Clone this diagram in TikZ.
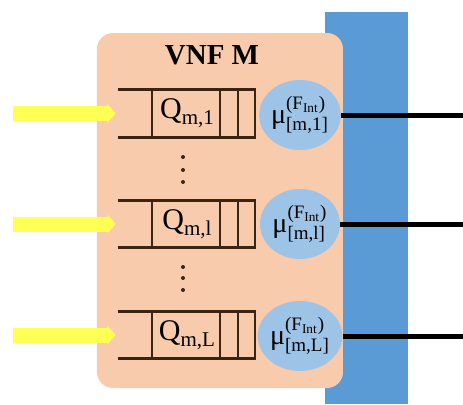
\documentclass[tikz,border=0pt]{standalone}
\usepackage{fontspec}
\setmainfont{Liberation Serif}
\usetikzlibrary{arrows.meta,shapes.geometric}
\definecolor{vnforange}{HTML}{F8CBAD}
\definecolor{barblue}{HTML}{5B9BD5}
\definecolor{srvblue}{HTML}{9DC3E6}
\definecolor{qline}{HTML}{3B2412}
\definecolor{inyellow}{HTML}{FFFF55}
\newcommand\svclabel[1]{$\mbox{μ}^{\mbox{\fontsize{9.5}{11}\selectfont(F\textsubscript{Int})}}_{\mbox{\fontsize{9.5}{11}\selectfont[#1]}}$}
\newcommand\qlabel[1]{Q\raisebox{-3pt}{\fontsize{10.5}{12}\selectfont #1}}
\begin{document}
\begin{tikzpicture}[x=0.5pt,y=-0.5pt,
  queue/.style={minimum width=69pt,minimum height=23.5pt,inner sep=0pt,font=\fontsize{15}{17}\selectfont},
  server/.style={ellipse,fill=srvblue,minimum width=40pt,minimum height=35pt,inner sep=0pt,font=\fontsize{14}{16}\selectfont},
  qedge/.style={draw=qline,line width=1.5pt},
  qcell/.style={draw=qline,line width=0.6pt},
  inflow/.style={draw=inyellow,line width=7.5pt,-{Triangle[length=4pt,width=9pt]},shorten >=1pt},
  outflow/.style={draw=black,line width=2.5pt},
  vdot/.style={circle,fill=qline,inner sep=0pt,minimum size=2pt}]
\useasboundingbox (0,0) rectangle (463,404);
\fill[barblue] (325,12) rectangle (408,404);
\node[fill=vnforange,rounded corners=8pt,minimum width=123pt,minimum height=177.5pt,inner sep=0pt] (vnf) at (220,210.5) {};
\node[font=\bfseries\fontsize{14.5}{17}\selectfont] (title) at (212,55) {VNF M};
\node[queue] (q1) at (187,113.5) {\qlabel{m,1}};
\node[queue] (q2) at (187,224) {\qlabel{m,l}};
\node[queue] (q3) at (187,335) {\qlabel{m,L}};
\foreach \q in {q1,q2,q3}{
  \draw[qedge] (\q.north west) -- (\q.north east);
  \draw[qedge] (\q.south west) -- (\q.south east);
  \foreach \dx in {-17.5pt,16.5pt,25.5pt,34pt}
    \draw[qcell] ([xshift=\dx]\q.north) -- ([xshift=\dx]\q.south);
}
\node[server] (s1) at (300,115) {\svclabel{m,1}};
\node[server] (s2) at (300,224) {\svclabel{m,l}};
\node[server] (s3) at (300,336) {\svclabel{m,L}};
\coordinate (in1) at (13,113.5);
\coordinate (in2) at (13,224);
\coordinate (in3) at (13,335);
\draw[inflow] (in1) -- (q1.west);
\draw[inflow] (in2) -- (q2.west);
\draw[inflow] (in3) -- (q3.west);
\coordinate (out1) at (463,115);
\coordinate (out2) at (463,224);
\coordinate (out3) at (463,336);
\draw[outflow] (s1.east) -- (out1);
\draw[outflow] (s2.east) -- (out2);
\draw[outflow] (s3.east) -- (out3);
\node[vdot] (d1) at (183,157) {};
\node[vdot] (d2) at (183,170) {};
\node[vdot] (d3) at (183,182) {};
\node[vdot] (d4) at (183,267) {};
\node[vdot] (d5) at (183,278) {};
\node[vdot] (d6) at (183,290) {};
\end{tikzpicture}
\end{document}
